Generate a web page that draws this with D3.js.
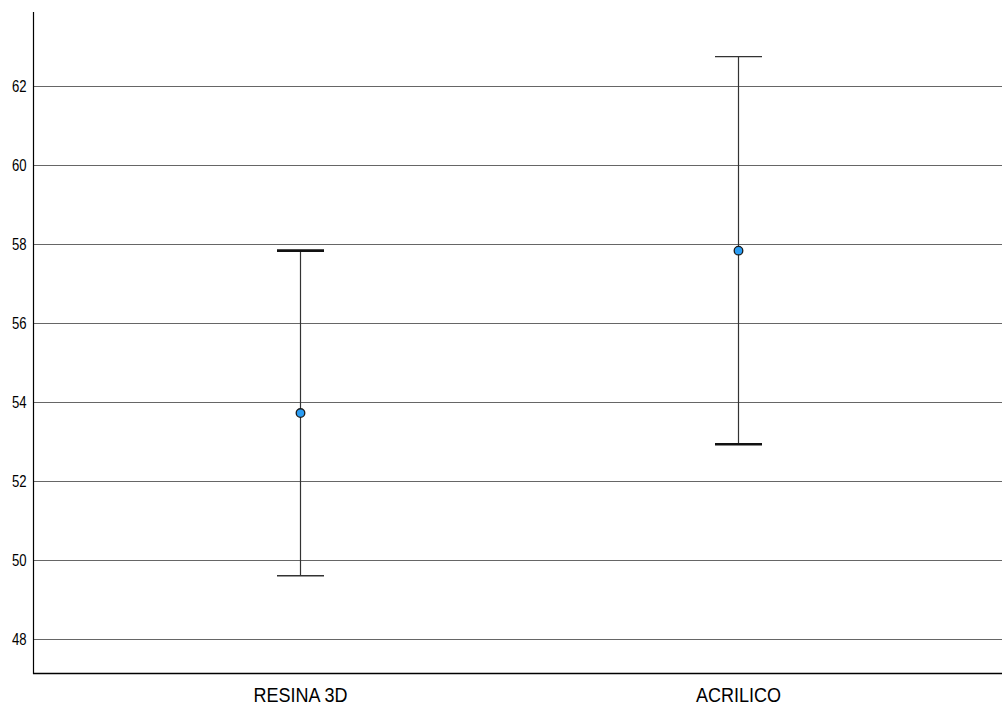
<!DOCTYPE html>
<html>
<head>
<meta charset="utf-8">
<script src="https://cdn.jsdelivr.net/npm/d3@7"></script>
<style>
  html, body { margin: 0; padding: 0; background: #fff; }
  svg { display: block; font-family: "Liberation Sans", Arial, sans-serif; }
</style>
</head>
<body>
<svg id="chart" width="1002" height="707"></svg>
<script>
const categories = ["RESINA 3D", "ACRILICO"];
const means = [53.72, 57.83];
const lowers = [49.6, 52.93];
const uppers = [57.83, 62.74];
const yTicks = [48, 50, 52, 54, 56, 58, 60, 62];

(function () {
const svg = d3.select("#chart");
const mLeft = 33, mRight = 1002, mTop = 12, mBottom = 673;

const x = d3.scalePoint().domain(categories).range([mLeft, 1005]).padding(0.61);
const y = d3.scaleLinear().domain([47.14, 63.87]).range([mBottom, mTop]);

// gridlines
svg.append("g").selectAll("line").data(yTicks).join("line")
  .attr("x1", mLeft).attr("x2", mRight)
  .attr("y1", d => Math.round(y(d)) + 0.5).attr("y2", d => Math.round(y(d)) + 0.5)
  .attr("stroke", "#666").attr("stroke-width", 1.1);

// y axis
const yAxis = d3.axisLeft(y).tickValues(yTicks).tickSize(0).tickPadding(8.5).tickFormat(d3.format("d"));
const gy = svg.append("g").attr("transform", `translate(${mLeft + 0.5},0)`).call(yAxis);
gy.select(".domain").remove();
gy.selectAll("text").attr("font-size", 16).attr("fill", "#000")
  .attr("transform", "scale(0.82,1)")
  .attr("font-family", "'Liberation Sans', Arial, sans-serif");

// x axis
const xAxis = d3.axisBottom(x).tickSize(0).tickPadding(14);
const gx = svg.append("g").attr("transform", `translate(0,${mBottom + 0.5})`).call(xAxis);
gx.select(".domain").remove();
gx.selectAll("text").attr("font-size", 20).attr("fill", "#000")
  .attr("transform", "scale(0.9,1)")
  .attr("font-family", "'Liberation Sans', Arial, sans-serif");

// axis lines
svg.append("line").attr("x1", mLeft + 0.5).attr("x2", mLeft + 0.5)
  .attr("y1", mTop).attr("y2", mBottom + 1).attr("stroke", "#000").attr("stroke-width", 1.2);
svg.append("line").attr("x1", mLeft).attr("x2", mRight)
  .attr("y1", mBottom + 0.5).attr("y2", mBottom + 0.5).attr("stroke", "#000").attr("stroke-width", 1.4);

const data = categories.map((c, i) => ({ c, m: means[i], lo: lowers[i], hi: uppers[i], i }));
const capW = 23.5;
const g = svg.append("g");
data.forEach(d => {
  const cx = Math.round(x(d.c)) + 0.5;
  g.append("line").attr("x1", cx).attr("x2", cx)
    .attr("y1", y(d.hi)).attr("y2", y(d.lo)).attr("stroke", "#333").attr("stroke-width", 1.2);
  g.append("line").attr("x1", cx - capW).attr("x2", cx + capW)
    .attr("y1", y(d.hi)).attr("y2", y(d.hi)).attr("stroke", d.i === 0 ? "#111" : "#333")
    .attr("stroke-width", d.i === 0 ? 2.6 : 1.4);
  g.append("line").attr("x1", cx - capW).attr("x2", cx + capW)
    .attr("y1", y(d.lo)).attr("y2", y(d.lo)).attr("stroke", d.i === 1 ? "#111" : "#333")
    .attr("stroke-width", d.i === 1 ? 2.6 : 1.4);
  g.append("circle").attr("cx", cx).attr("cy", y(d.m)).attr("r", 4.3)
    .attr("fill", "#2a9df4").attr("stroke", "#1a1a1a").attr("stroke-width", 1.3);
});
})();
</script>
</body>
</html>
